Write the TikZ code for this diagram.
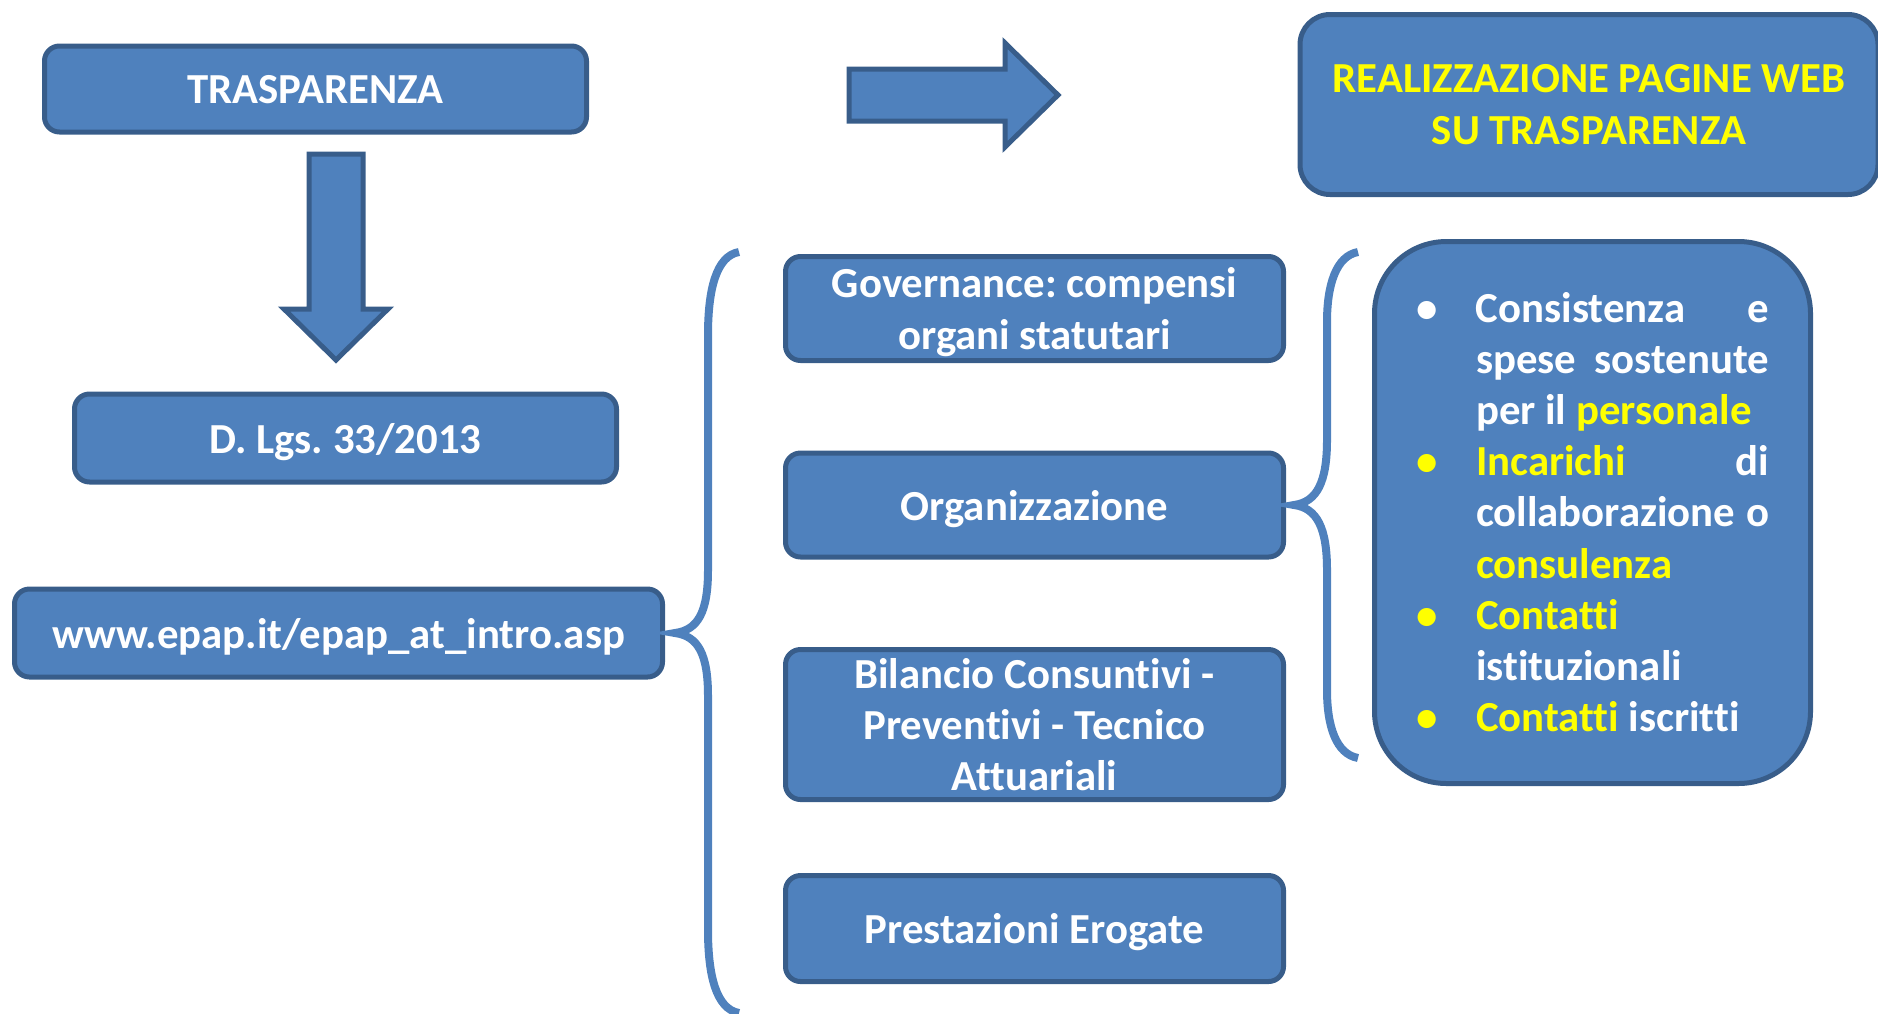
\documentclass[tikz,border=0pt]{standalone}
\usepackage{fontspec}
\setmainfont{Carlito}[Ligatures=NoCommon]
\frenchspacing
\definecolor{boxfill}{HTML}{4F81BD}
\definecolor{boxline}{HTML}{385D8A}
\definecolor{txtyel}{HTML}{FFFF00}
\newcommand{\yel}[1]{\textcolor{txtyel}{#1}}
\begin{document}
\begin{tikzpicture}[x=0.5pt,y=-0.5pt,
  box/.style={draw=boxline, fill=boxfill, line width=2.5pt, rounded corners=7.5pt,
    text=white, font=\bfseries\fontsize{21.4}{25.6}\selectfont, align=center, inner sep=0pt,
    text depth=0pt},
  brace/.style={draw=boxfill, line width=4pt},
  blockarrow/.style={draw=boxline, fill=boxfill, line width=2.5pt, line join=miter}]
\useasboundingbox (0,0) rectangle (1878,1013);

% left column
\node[box, minimum width=271pt, minimum height=43pt] (trasp) at (315.5,89) {TRASPARENZA};
\node[box, minimum width=271pt, minimum height=44pt] (dlgs) at (345.5,438) {D. Lgs. 33/2013};
\node[box, minimum width=324pt, minimum height=44pt] (www) at (338.5,633) {www.epap.it/epap\_at\_intro.asp};

% top right
\node[box, rounded corners=15pt, text=txtyel, minimum width=289pt, minimum height=90pt] (real) at (1589,104.5)
  {REALIZZAZIONE PAGINE WEB\\SU TRASPARENZA};

% middle column
\node[box, minimum width=249pt, minimum height=52pt] (gov) at (1034.5,308.5) {Governance: compensi\\organi statutari};
\node[box, minimum width=249pt, minimum height=52pt] (org) at (1034.5,505) {Organizzazione};
\node[box, minimum width=249pt, minimum height=75pt] (bil) at (1034.5,724.5) {Bilancio Consuntivi -\\Preventivi - Tecnico\\Attuariali};
\node[box, minimum width=249pt, minimum height=53pt] (pre) at (1034.5,928.5) {Prestazioni Erogate};

% bullet list box
\node[box, rounded corners=36pt, text depth=3.5pt, minimum width=218pt, minimum height=271pt] (list) at (1592.5,512.5)
{\begin{tabular}[b]{@{}p{30pt}@{}l@{}}
\textbullet & \makebox[146.5pt][s]{Consistenza e}\\
 & \makebox[146.5pt][s]{spese sostenute}\\
 & per il \yel{personale}\\
\yel{\textbullet} & \makebox[146.5pt][s]{\yel{Incarichi} di}\\
 & \makebox[146.5pt][s]{collaborazione o}\\
 & \yel{consulenza}\\
\yel{\textbullet} & \yel{Contatti}\\
 & istituzionali\\
\yel{\textbullet} & \yel{Contatti} iscritti
\end{tabular}};

% block arrows
\path[blockarrow] (309,154) -- (363,154) -- (363,309) -- (388,309) -- (336,360)
  -- (284,309) -- (309,309) -- cycle;
\path[blockarrow] (849,69) -- (1005,69) -- (1005,43) -- (1058,95) -- (1005,147)
  -- (1005,121) -- (849,121) -- cycle;

% left brace
\draw[brace] (739,252) .. controls (716,256) and (708,290) .. (708,335) -- (708,570)
  .. controls (708,612) and (698,630) .. (675,633)
  .. controls (698,636) and (708,654) .. (708,696) -- (708,930)
  .. controls (708,975) and (716,1009) .. (739,1013);

% right brace
\draw[brace] (1358,252) .. controls (1336,256) and (1327,285) .. (1327,322) -- (1327,440)
  .. controls (1327,482) and (1317,502) .. (1294,505)
  .. controls (1317,508) and (1327,528) .. (1327,570) -- (1327,690)
  .. controls (1327,726) and (1336,754) .. (1358,758);
\end{tikzpicture}
\end{document}
